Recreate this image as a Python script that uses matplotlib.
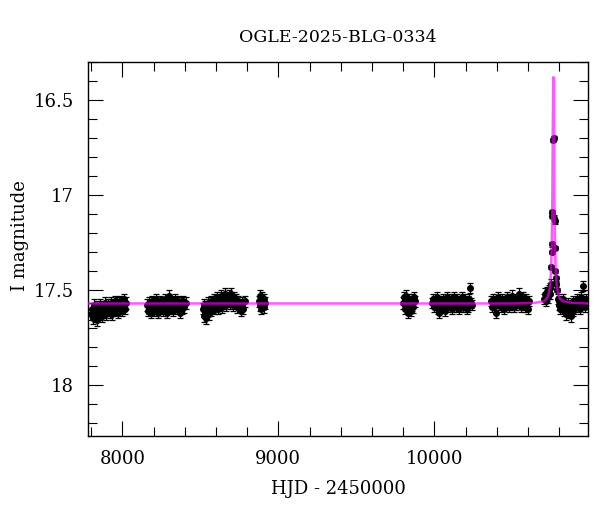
import numpy as np
import matplotlib
matplotlib.use("Agg")
import matplotlib.pyplot as plt
from matplotlib.ticker import MultipleLocator

# OGLE I-band photometry, one list per observing season (HJD - 2450000, mag)
t1 = [7802, 7807, 7811, 7816, 7821, 7826, 7830, 7835, 7840, 7845, 7849, 7854, 7859, 7864, 7868, 7873,
      7878, 7883, 7888, 7892, 7897, 7902, 7907, 7912, 7916, 7921, 7926, 7931, 7936, 7941, 7945, 7950,
      7955, 7960, 7965, 7970, 7975, 7980, 7985, 7990, 7995, 8000, 8006, 8012, 8018, 8025]
m1 = [17.63, 17.60, 17.65, 17.61, 17.58, 17.64, 17.62, 17.59, 17.66, 17.61, 17.60, 17.63, 17.58, 17.62,
      17.64, 17.60, 17.59, 17.62, 17.61, 17.57, 17.63, 17.60, 17.58, 17.61, 17.59, 17.62, 17.57, 17.60,
      17.63, 17.58, 17.60, 17.56, 17.61, 17.59, 17.57, 17.62, 17.58, 17.60, 17.56, 17.59, 17.61, 17.57,
      17.58, 17.55, 17.60, 17.57]
t2 = [8158, 8163, 8168, 8173, 8178, 8183, 8188, 8193, 8198, 8203, 8208, 8213, 8218, 8223, 8229, 8234,
      8239, 8244, 8250, 8255, 8260, 8266, 8271, 8276, 8282, 8287, 8293, 8298, 8303, 8309, 8314, 8320,
      8325, 8331, 8337, 8343, 8349, 8355, 8361, 8367, 8373, 8379, 8385, 8391, 8398, 8405]
m2 = [17.58, 17.61, 17.57, 17.60, 17.59, 17.62, 17.56, 17.60, 17.58, 17.61, 17.57, 17.59, 17.55, 17.60,
      17.62, 17.58, 17.56, 17.60, 17.59, 17.57, 17.61, 17.58, 17.55, 17.60, 17.57, 17.62, 17.59, 17.53,
      17.58, 17.60, 17.56, 17.59, 17.61, 17.57, 17.55, 17.58, 17.60, 17.56, 17.59, 17.62, 17.57, 17.58,
      17.60, 17.56, 17.59, 17.57]
t3 = [8517, 8521, 8525, 8529, 8533, 8537, 8542, 8546, 8551, 8556, 8561, 8566, 8571, 8576, 8581, 8586,
      8591, 8596, 8601, 8606, 8611, 8616, 8621, 8627, 8632, 8637, 8642, 8647, 8652, 8657, 8662, 8667,
      8672, 8678, 8683, 8688, 8694, 8699, 8705, 8711, 8717, 8723, 8730, 8737, 8744, 8752, 8760, 8768,
      8776, 8785]
m3 = [17.60, 17.64, 17.58, 17.62, 17.59, 17.65, 17.61, 17.57, 17.60, 17.63, 17.58, 17.56, 17.61, 17.57,
      17.59, 17.55, 17.60, 17.56, 17.58, 17.54, 17.57, 17.60, 17.55, 17.58, 17.53, 17.56, 17.59, 17.54,
      17.57, 17.52, 17.55, 17.58, 17.54, 17.56, 17.53, 17.57, 17.55, 17.52, 17.56, 17.58, 17.54, 17.57,
      17.55, 17.59, 17.56, 17.58, 17.61, 17.57, 17.60, 17.56]
t4 = [8876, 8880, 8884, 8888, 8892, 8896, 8900, 8905, 8910, 8915]
m4 = [17.56, 17.53, 17.58, 17.55, 17.60, 17.54, 17.57, 17.59, 17.55, 17.57]
t5 = [9798, 9803, 9809, 9814, 9820, 9826, 9831, 9837, 9843, 9848, 9854, 9860, 9866, 9872, 9878]
m5 = [17.57, 17.54, 17.60, 17.56, 17.53, 17.59, 17.62, 17.55, 17.57, 17.61, 17.58, 17.55, 17.59, 17.54,
      17.56]
t6 = [9985, 9991, 9997, 10003, 10009, 10015, 10021, 10027, 10033, 10039, 10045, 10051, 10057, 10063,
      10069, 10075, 10081, 10087, 10093, 10099, 10105, 10111, 10117, 10123, 10129, 10135, 10141, 10147,
      10153, 10159, 10165, 10171, 10177, 10183, 10189, 10195, 10201, 10207, 10213, 10219, 10225, 10231,
      10237, 10243]
m6 = [17.57, 17.55, 17.59, 17.56, 17.58, 17.54, 17.60, 17.57, 17.62, 17.58, 17.56, 17.59, 17.55, 17.58,
      17.61, 17.57, 17.54, 17.59, 17.56, 17.58, 17.55, 17.60, 17.57, 17.54, 17.58, 17.56, 17.59, 17.55,
      17.57, 17.60, 17.56, 17.58, 17.54, 17.59, 17.57, 17.55, 17.58, 17.60, 17.56, 17.59, 17.55, 17.49,
      17.57, 17.58]
t7 = [10362, 10368, 10374, 10380, 10386, 10392, 10398, 10404, 10410, 10416, 10422, 10428, 10434, 10440,
      10446, 10452, 10458, 10464, 10470, 10476, 10482, 10488, 10494, 10500, 10506, 10512, 10518, 10524,
      10530, 10536, 10542, 10548, 10554, 10560, 10566, 10572, 10578, 10584, 10590, 10596, 10602, 10608]
m7 = [17.56, 17.59, 17.55, 17.58, 17.58, 17.56, 17.62, 17.57, 17.54, 17.58, 17.56, 17.59, 17.55, 17.57,
      17.60, 17.56, 17.58, 17.54, 17.57, 17.59, 17.55, 17.58, 17.56, 17.53, 17.57, 17.59, 17.55, 17.58,
      17.56, 17.57, 17.52, 17.55, 17.59, 17.56, 17.54, 17.58, 17.56, 17.59, 17.55, 17.57, 17.60, 17.56]
t8a = [10705, 10710, 10715, 10720, 10725, 10730, 10735, 10740, 10744, 10747]
m8a = [17.55, 17.52, 17.56, 17.53, 17.51, 17.54, 17.50, 17.52, 17.49, 17.47]
t_ev = [10750, 10752, 10753, 10756, 10757, 10760, 10766, 10770, 10771, 10773, 10776, 10779, 10782, 10786]
m_ev = [17.38, 17.30, 17.26, 17.09, 17.11, 16.71, 16.70, 17.12, 17.14, 17.28, 17.40, 17.44, 17.47, 17.50]
t8b = [10790, 10796, 10802, 10808, 10814, 10820, 10826, 10832, 10838, 10844, 10850, 10856, 10862, 10868,
       10874, 10880, 10886, 10892, 10898, 10904, 10910, 10916, 10922, 10928, 10934, 10940, 10946, 10952,
       10958, 10964, 10970]
m8b = [17.55, 17.58, 17.56, 17.60, 17.57, 17.59, 17.55, 17.61, 17.58, 17.63, 17.60, 17.57, 17.62, 17.59,
       17.64, 17.58, 17.61, 17.56, 17.60, 17.57, 17.59, 17.55, 17.58, 17.56, 17.60, 17.54, 17.57, 17.48,
       17.56, 17.59, 17.55]
seasons = [(t1, m1, 0.03), (t2, m2, 0.03), (t3, m3, 0.03), (t4, m4, 0.03), (t5, m5, 0.03),
           (t6, m6, 0.027), (t7, m7, 0.027), (t8a, m8a, 0.027), (t_ev, m_ev, 0.012), (t8b, m8b, 0.027)]

# microlensing model
model_t = [7780, 10500, 10640, 10700, 10723, 10733, 10741, 10746, 10750, 10753, 10755, 10756, 10757,
           10758, 10759, 10760, 10761, 10762, 10763, 10764, 10765, 10766, 10767, 10768, 10769, 10770,
           10771, 10773, 10776, 10780, 10785, 10793, 10803, 10826, 10886, 10990]
model_m = [17.572, 17.572, 17.569, 17.561, 17.545, 17.52, 17.48, 17.43, 17.35, 17.24, 17.13, 17.06, 16.96,
           16.82, 16.70, 16.60, 16.50, 16.41, 16.38, 16.41, 16.50, 16.60, 16.70, 16.82, 16.96, 17.06,
           17.13, 17.24, 17.35, 17.43, 17.48, 17.52, 17.545, 17.561, 17.569, 17.572]

for t, m, e in seasons:
    assert len(t) == len(m)
t_all = np.concatenate([s[0] for s in seasons])
m_all = np.concatenate([s[1] for s in seasons])
e_all = np.concatenate([[s[2]] * len(s[0]) for s in seasons])

plt.rcParams["font.family"] = ["DejaVu Serif"]
fig = plt.figure(figsize=(6, 5.12), dpi=100)
ax = fig.add_axes([88 / 600, 1 - 436 / 512, 500 / 600, 374 / 512])

ax.errorbar(t_all, m_all, yerr=e_all, fmt="o", color="black", ms=4, elinewidth=0.9,
            capsize=2.5, capthick=0.9, zorder=2)
ax.plot(model_t, model_m, color="magenta", lw=1.8, alpha=0.65, zorder=3)

ax.set_xlim(7780, 10985)
ax.set_ylim(18.27, 16.30)
ax.xaxis.set_major_locator(MultipleLocator(1000))
ax.xaxis.set_minor_locator(MultipleLocator(200))
ax.yaxis.set_major_locator(MultipleLocator(0.5))
ax.yaxis.set_minor_locator(MultipleLocator(0.1))
ax.yaxis.set_major_formatter(plt.FuncFormatter(lambda v, p: f"{v:g}"))
ax.tick_params(which="both", direction="in", top=True, right=True, labelsize=13, width=0.8)
ax.tick_params(which="major", length=11)
ax.tick_params(which="minor", length=6.5)
ax.tick_params(axis="x", pad=10)
ax.tick_params(axis="y", pad=10)
for s in ax.spines.values():
    s.set_linewidth(1.0)

ax.set_xlabel("HJD - 2450000", fontsize=13, labelpad=9)
ax.set_ylabel("I magnitude", fontsize=13)
ax.yaxis.set_label_coords(-0.118, 0.535)
fig.text(0.5 * (88 + 588) / 600, 1 - 38 / 512, "OGLE-2025-BLG-0334", ha="center", va="center",
         fontsize=12.5)

fig.savefig("out.png", dpi=100)
